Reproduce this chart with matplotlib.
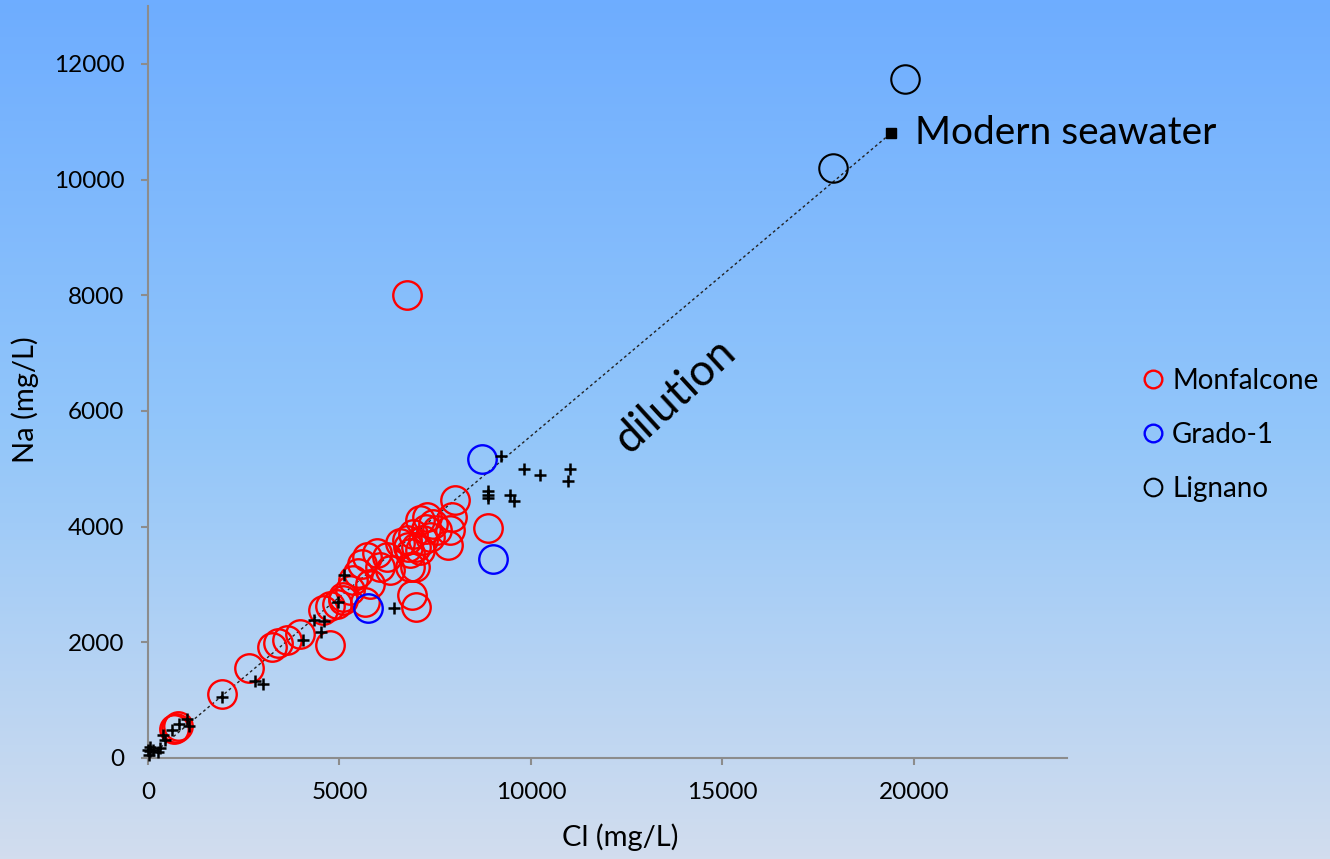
import numpy as np
import matplotlib
matplotlib.use("Agg")
from matplotlib import pyplot as plt
from matplotlib.colors import LinearSegmentedColormap

plt.rcParams["font.family"] = ["Lato", "DejaVu Sans"]

# Monfalcone samples (Cl, Na in mg/L)
monf_cl = [6760, 680, 780, 720, 1930, 2640, 3230, 3400, 3620, 3970, 4750, 4580,
           4750, 4930, 5100, 5100, 5270, 5360, 5490, 5580, 5710, 5800, 5970, 6060,
           6230, 6320, 5670, 6840, 6970, 6890, 7010, 6580, 6750, 6840, 6930, 7010,
           7100, 7190, 7280, 7360, 7450, 7540, 7840, 7890, 7930, 8010, 8890, 7100,
           6800, 7250]
monf_na = [8000, 500, 560, 520, 1110, 1550, 1920, 1980, 2040, 2150, 1960, 2560,
           2620, 2670, 2730, 2790, 2900, 3070, 3190, 3360, 3480, 3010, 3540, 3300,
           3480, 3250, 2700, 3300, 3300, 2810, 2610, 3710, 3770, 3540, 3880, 3650,
           4110, 3770, 4170, 3820, 4050, 3940, 3680, 3940, 4170, 4460, 3980, 3600,
           3650, 3950]

# Grado-1
grado_cl = [8710, 9020, 5750]
grado_na = [5170, 3440, 2590]

# Lignano
lign_cl = [17900, 19770]
lign_na = [10200, 11730]

# other samples (crosses)
oth_cl = [20, 40, 60, 10, 140, 270, 310, 380, 440, 620, 800, 1010, 1060, 1930,
          2800, 2990, 4040, 4330, 4600, 4510, 4970, 5120, 6420, 8870, 8870, 8870,
          9230, 9450, 9570, 9830, 10230, 11030, 10970]
oth_na = [60, 120, 190, 140, 140, 110, 170, 400, 310, 480, 580, 680, 550, 1060,
          1335, 1285, 2040, 2380, 2370, 2170, 2690, 3170, 2600, 4610, 4550, 4500,
          5220, 4540, 4440, 4990, 4890, 5000, 4780]

# modern seawater
sw_cl, sw_na = 19400, 10800

fig = plt.figure(figsize=(13.3, 8.59), dpi=100)

# gradient background
bg = fig.add_axes([0, 0, 1, 1], zorder=-10)
cmap = LinearSegmentedColormap.from_list(
    "bg", [(0.0, "#6eadff"), (0.5, "#92c6fa"), (1.0, "#d2ddee")])
grad = np.linspace(0, 1, 256).reshape(-1, 1)
bg.imshow(grad, aspect="auto", cmap=cmap, extent=[0, 1, 0, 1])
bg.axis("off")

ax = fig.add_axes([0.1113, 0.1176, 0.691, 0.8754])
ax.patch.set_alpha(0)

ax.plot([0, sw_cl], [0, sw_na], color="#222222", lw=1, ls=(0, (2, 2)), zorder=1)

ax.plot(oth_cl, oth_na, ls="none", marker="+", ms=9, mew=1.8, color="black",
        clip_on=False, zorder=3)
m1, = ax.plot(monf_cl, monf_na, ls="none", marker="o", ms=20.5, mfc="none",
              mec="#ff0000", mew=1.7, clip_on=False, zorder=2, label="Monfalcone")
m2, = ax.plot(grado_cl, grado_na, ls="none", marker="o", ms=20.5, mfc="none",
              mec="#0000ff", mew=1.7, clip_on=False, zorder=2, label="Grado-1")
m3, = ax.plot(lign_cl, lign_na, ls="none", marker="o", ms=20.5, mfc="none",
              mec="black", mew=1.5, clip_on=False, zorder=2, label="Lignano")
ax.plot([sw_cl], [sw_na], ls="none", marker="s", ms=7, color="black", zorder=4)
ax.text(sw_cl + 620, sw_na, "Modern seawater", fontsize=28, va="center", ha="left")
ax.text(13750, 6250, "dilution", fontsize=32, rotation=42.5, ha="center",
        va="center", rotation_mode="anchor")

ax.set_xlim(0, 24000)
ax.set_ylim(0, 13000)
ax.set_xticks([0, 5000, 10000, 15000, 20000])
ax.set_yticks([0, 2000, 4000, 6000, 8000, 10000, 12000])
for s in ["top", "right"]:
    ax.spines[s].set_visible(False)
for s in ["left", "bottom"]:
    ax.spines[s].set_color("#8c8c8c")
    ax.spines[s].set_linewidth(1.5)
ax.tick_params(direction="out", length=5, width=1.5, color="#8c8c8c",
               labelsize=17.5, pad=12)
ax.set_xlabel("Cl (mg/L)", fontsize=21, labelpad=15)
ax.set_ylabel("Na (mg/L)", fontsize=21, labelpad=11)
ax.xaxis.label.set_x(0.514)
ax.yaxis.label.set_y(0.476)

fig.legend(handles=[m1, m2, m3], loc="center left",
           bbox_to_anchor=(0.852, 0.4936), frameon=False, fontsize=20,
           markerscale=0.62, handlelength=0.6, handletextpad=0.4,
           labelspacing=1.0, borderaxespad=0)

fig.savefig("out.png", dpi=100)
